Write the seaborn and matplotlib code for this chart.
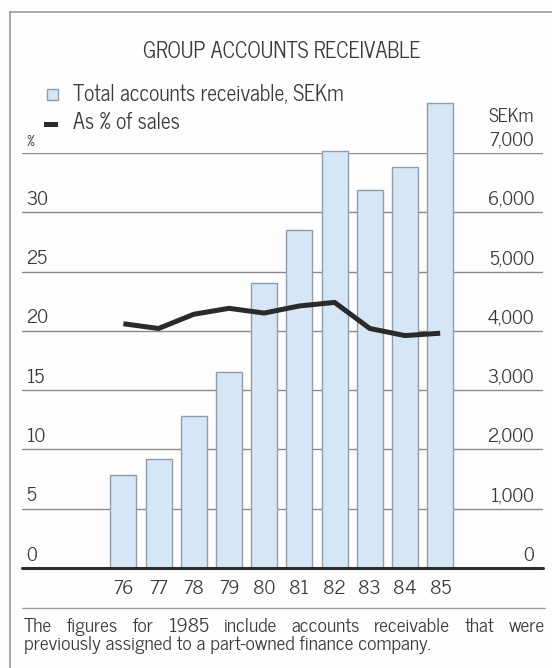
import numpy as np
import pandas as pd
import matplotlib
matplotlib.use("Agg")
import matplotlib.pyplot as plt
from matplotlib.lines import Line2D
from matplotlib.patches import Rectangle
import seaborn as sns

# Data
years = ["76", "77", "78", "79", "80", "81", "82", "83", "84", "85"]
receivables_sekm = [1570, 1840, 2570, 3300, 4800, 5700, 7030, 6370, 6770, 7840]
pct_of_sales = [20.6, 20.2, 21.4, 21.9, 21.5, 22.1, 22.4, 20.2, 19.6, 19.8]
sek_ticks = [0, 1000, 2000, 3000, 4000, 5000, 6000, 7000]
sek_labels = ["0", "1,000", "2,000", "3,000", "4,000", "5,000", "6,000", "7,000"]
pct_ticks = [0, 5, 10, 15, 20, 25, 30]
pct_labels = ["0", "5", "10", "15", "20", "25", "30"]

title = "GROUP ACCOUNTS RECEIVABLE"
legend_bar = "Total accounts receivable, SEKm"
legend_line = "As % of sales"
caption = ["The figures for 1985 include accounts receivable that were",
           "previously assigned to a part-owned finance company."]

sns.set_theme(style="white")
plt.rcParams["font.family"] = ["News Cycle", "Liberation Sans", "DejaVu Sans"]

TEXT = "#3a3a3a"
BAR_FILL = "#d5e7f6"
BAR_EDGE = "#8f9daa"
GRID = "#8a8a8a"
BG = "#fdfdfd"

W, H = 552, 668
fig = plt.figure(figsize=(W / 100, H / 100), dpi=100, facecolor=BG)


def fx(px):
    return px / W


def fy(py):
    return 1 - py / H


# Main axes: bars on SEKm scale
ax = fig.add_axes([fx(22), fy(568), fx(543) - fx(22), fy(153) - fy(568)])
ax.set_facecolor("none")
df = pd.DataFrame({"year": years, "sekm": receivables_sekm})
sns.barplot(data=df, x="year", y="sekm", ax=ax, color=BAR_FILL,
            width=0.74, edgecolor=BAR_EDGE, linewidth=1.0, saturation=1)
for p in ax.patches:
    p.set_clip_on(False)
    p.set_facecolor(BAR_FILL)
    p.set_zorder(2)

ax.set_ylim(0, 7000)
ax.set_xlim(-2.88, 11.92)
ax.set_yticks(sek_ticks)
ax.set_yticklabels([])
ax.tick_params(axis="y", length=0)
ax.tick_params(axis="x", length=0, pad=9, labelsize=14, labelcolor=TEXT)
ax.set_xlabel("")
ax.set_ylabel("")
for s in ax.spines.values():
    s.set_visible(False)
ax.set_axisbelow(True)
ax.yaxis.grid(True, color=GRID, linewidth=1.0)
ax.axhline(0, color="#2e2e2e", linewidth=2.2, zorder=4, clip_on=False)

NUM = 14
LIFT = 2.5

# Right-hand SEKm labels
ytr = ax.get_yaxis_transform()
for v, lab in zip(sek_ticks, sek_labels):
    ax.annotate(lab, xy=(0.983, v), xycoords=ytr, xytext=(0, LIFT),
                textcoords="offset points", ha="right", va="bottom",
                fontsize=NUM, color=TEXT)
ax.annotate("SEKm", xy=(0.983, 7000), xycoords=ytr, xytext=(0, 19.5),
            textcoords="offset points", ha="right", va="bottom",
            fontsize=NUM, color=TEXT)

# Twin axes: percentage of sales line
ax2 = ax.twinx()
ax2.set_ylim(0, 35)
sns.lineplot(x=np.arange(len(years)), y=pct_of_sales, ax=ax2,
             color="#2a2a2a", linewidth=3.6, solid_capstyle="butt")
ax2.set_yticks([])
ax2.set_ylabel("")
for s in ax2.spines.values():
    s.set_visible(False)

ytr2 = ax2.get_yaxis_transform()
for v, lab in zip(pct_ticks, pct_labels):
    ax2.annotate(lab, xy=(0.008, v), xycoords=ytr2, xytext=(0, LIFT),
                 textcoords="offset points", ha="left", va="bottom",
                 fontsize=NUM, color=TEXT)
ax2.annotate("%", xy=(0.008, 35), xycoords=ytr2, xytext=(0, 3),
             textcoords="offset points", ha="left", va="bottom",
             fontsize=10.5, color=TEXT)

# Title and legend
fig.text(fx(282), fy(52), title, ha="center", va="center",
         fontsize=15.5, color=TEXT)
fig.add_artist(Rectangle((fx(47), fy(100)), fx(11), fy(89) - fy(100),
                         transform=fig.transFigure, facecolor=BAR_FILL,
                         edgecolor=BAR_EDGE, linewidth=1.0))
fig.text(fx(73), fy(95), legend_bar, ha="left", va="center",
         fontsize=15.5, color=TEXT)
fig.add_artist(Rectangle((fx(44), fy(127)), fx(14), fy(122) - fy(127),
                         transform=fig.transFigure, facecolor="#2a2a2a",
                         edgecolor="none"))
fig.text(fx(73), fy(123), legend_line, ha="left", va="center",
         fontsize=15.5, color=TEXT)

# Frame and separator
frame_kw = dict(color="#9a9a9a", linewidth=1.2, transform=fig.transFigure)
fig.add_artist(Line2D([fx(10), fx(552)], [fy(12), fy(12)], **frame_kw))
fig.add_artist(Line2D([fx(10), fx(10)], [fy(12), fy(668)], **frame_kw))
fig.add_artist(Line2D([fx(22), fx(545)], [fy(608), fy(608)],
                      color="#9a9a9a", linewidth=1.0, transform=fig.transFigure))

# Caption: first line justified to full width, second line ragged
cap_size = 14
fig.canvas.draw()
renderer = fig.canvas.get_renderer()
left_px, right_px = 24, 545
words = caption[0].split()
tmp = [fig.text(0, 0, w, fontsize=cap_size) for w in words]
widths = [t.get_window_extent(renderer).width for t in tmp]
for t in tmp:
    t.remove()
gap = (right_px - left_px - sum(widths)) / (len(words) - 1)
x = left_px
for w, wd in zip(words, widths):
    fig.text(fx(x), fy(627), w, ha="left", va="center",
             fontsize=cap_size, color=TEXT)
    x += wd + gap
fig.text(fx(left_px), fy(645), caption[1], ha="left", va="center",
         fontsize=cap_size, color=TEXT)

fig.savefig("out.png", dpi=100, facecolor=BG)
